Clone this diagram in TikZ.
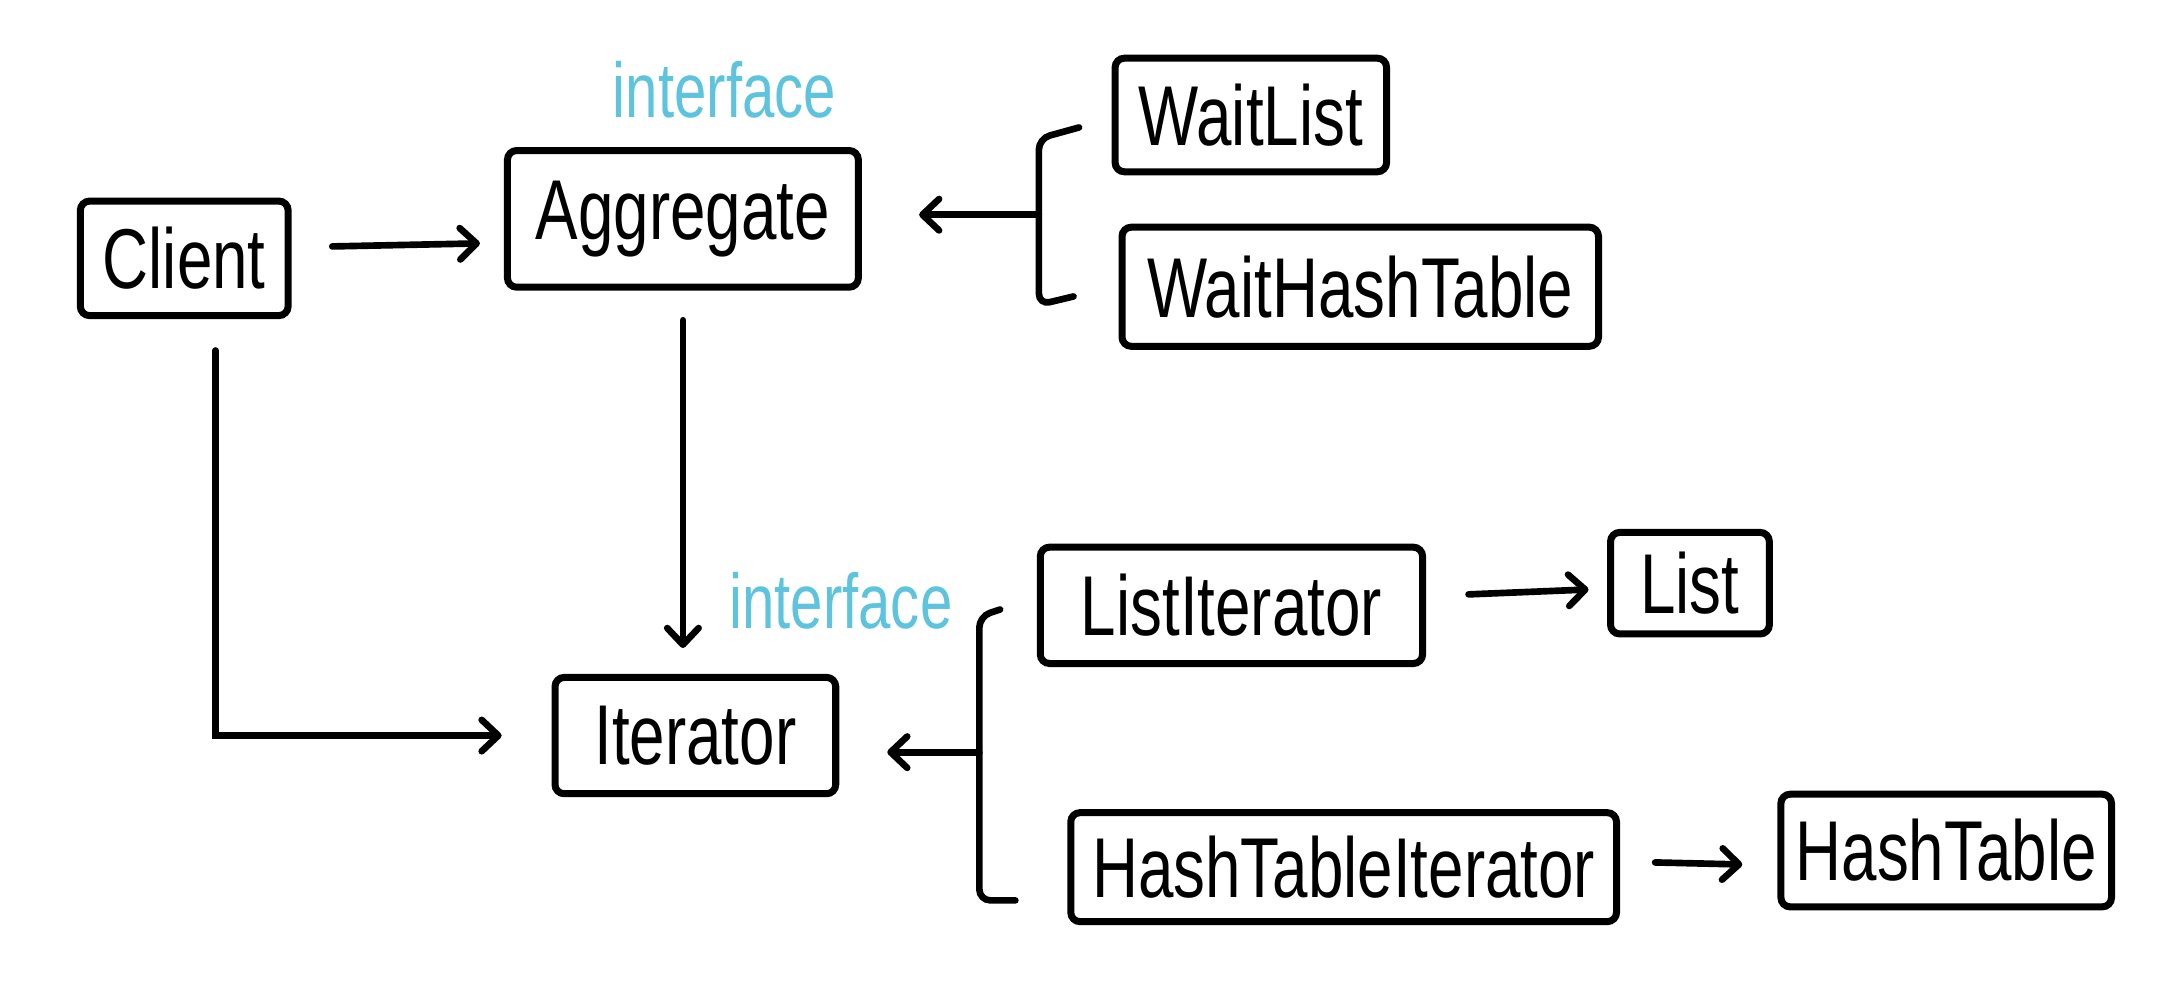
\documentclass[tikz,border=0pt]{standalone}
\usepackage{fontspec}
\newfontfamily\handfont[FakeStretch=0.75]{Liberation Sans}
\usetikzlibrary{arrows.meta}
\definecolor{ifacecyan}{RGB}{94,196,221}

\begin{document}
\begin{tikzpicture}[x=0.75pt,y=0.75pt,yscale=-1,xscale=1,
    box/.style={draw,line width=3.8pt,rounded corners=5pt,inner sep=0pt,font=\handfont\fontsize{46}{50}\selectfont},
    iface/.style={text=ifacecyan,inner sep=0pt,font=\handfont\fontsize{42}{46}\selectfont},
    link/.style={line width=3.6pt,line cap=round,-{Straight Barb[length=9pt,width=17pt,round]}},
    wire/.style={line width=3.6pt,line cap=round,rounded corners=6pt}]
    \useasboundingbox (0,0) rectangle (1568,722);

    %Shape: Boxes
    \node[box,minimum width=112.5pt,minimum height=62pt] (client) at (133,186.5) {Client};
    \node[box,minimum width=190pt,minimum height=74pt] (aggregate) at (493,158) {Aggregate};
    \node[box,minimum width=147pt,minimum height=61.5pt] (waitlist) at (903,83) {WaitList};
    \node[box,minimum width=258pt,minimum height=64.5pt] (waithash) at (982,207) {WaitHashTable};
    \node[box,minimum width=152pt,minimum height=63pt] (iterator) at (502,531) {Iterator};
    \node[box,minimum width=207pt,minimum height=63pt] (listit) at (889,437) {ListIterator};
    \node[box,minimum width=86pt,minimum height=55pt] (list) at (1220,421) {List};
    \node[box,minimum width=295.5pt,minimum height=59pt] (hashit) at (970,626) {HashTableIterator};
    \node[box,minimum width=179pt,minimum height=61pt] (hashtable) at (1405,614) {HashTable};

    % Text Node
    \node[iface] (aggiface) at (523,65) {interface};
    % Text Node
    \node[iface] (itiface) at (607,434) {interface};

    %Straight Lines: uses
    \draw[link,shorten <=22pt,shorten >=13pt] ([yshift=-6pt]client.east) -- ([yshift=13pt]aggregate.west);
    \draw[link,shorten <=16pt,shorten >=14pt] (aggregate.south) -- (aggregate.south |- iterator.north);
    \draw[link,shorten <=17pt,shorten >=27pt] ([xshift=17pt]client.south) |- (iterator.west);
    \draw[link,shorten <=23pt,shorten >=10pt] ([yshift=-5pt]listit.east) -- ([yshift=3pt]list.west);
    \draw[link,shorten <=19pt,shorten >=19pt] ([yshift=-3pt]hashit.east) -- ([yshift=8pt]hashtable.west);

    %Brackets: implementations
    \coordinate (wltick) at (779,92);
    \coordinate (whtick) at (775,214);
    \coordinate (wbmid) at (750,155);
    \draw[wire] (wltick) -- (750,100) -- (750,220) -- (whtick);
    \draw[link,shorten >=31pt] (wbmid) -- (wbmid -| aggregate.east);

    \coordinate (litick) at (722,440);
    \coordinate (htick) at (733,650);
    \coordinate (ibmid) at (707,543);
    \draw[wire] (litick) -- (707,445) -- (707,650) -- (htick);
    \draw[link,shorten >=26pt] (ibmid) -- (ibmid -| iterator.east);
\end{tikzpicture}
\end{document}
